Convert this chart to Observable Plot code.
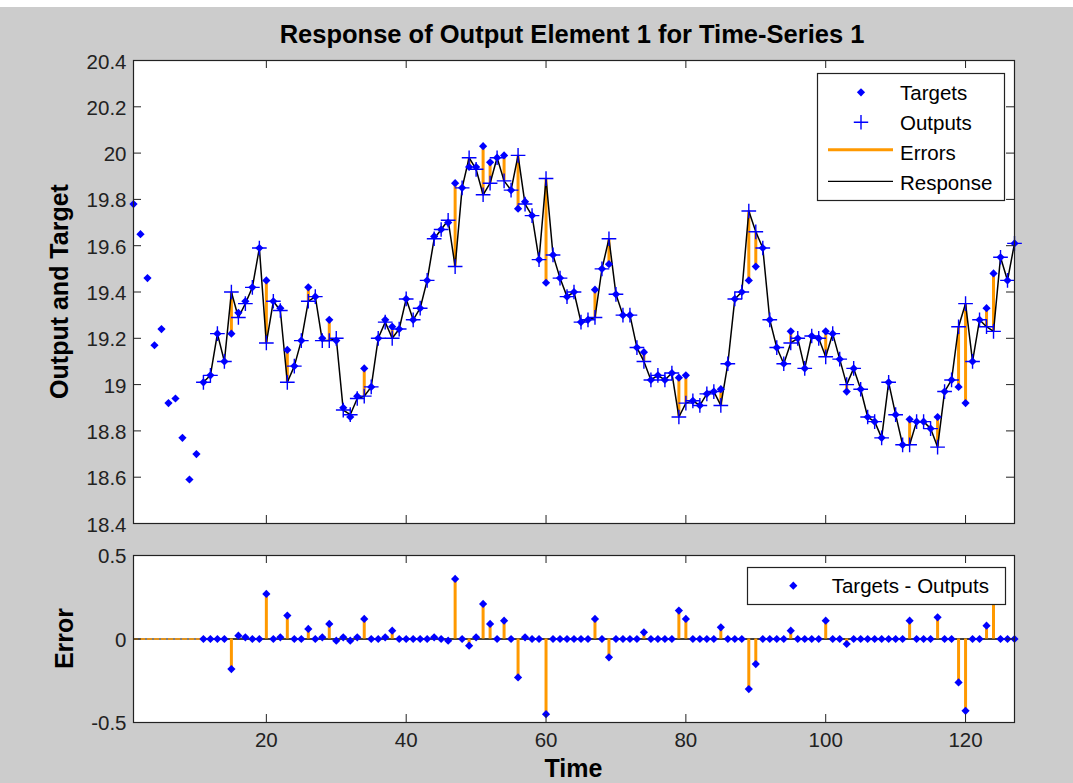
<!DOCTYPE html>
<html>
<head>
<meta charset="utf-8">
<script src="https://cdn.jsdelivr.net/npm/d3@7"></script>
<script src="https://cdn.jsdelivr.net/npm/@observablehq/plot@0.6"></script>
<style>
html,body{margin:0;padding:0;background:#cccccc;}
#fig{position:relative;width:1073px;height:783px;background:#cccccc;overflow:hidden;font-family:"Liberation Sans",Arial,sans-serif;}
#fig > svg{position:absolute;left:0;}
#overlay{position:absolute;left:0;top:0;pointer-events:none;}
</style>
</head>
<body>
<div id="fig"></div>
<script>
// ---- data ----
const title = "Response of Output Element 1 for Time-Series 1";
const yLabelTop = "Output and Target";
const yLabelErr = "Error";
const xLabel = "Time";
const legendTop = ["Targets", "Outputs", "Errors", "Response"];
const legendErr = ["Targets - Outputs"];

// targets for time steps 1..127
const targets = [
  19.78, 19.65, 19.46, 19.17, 19.24, 18.92, 18.94, 18.77, 18.59, 18.70,
  19.01, 19.04, 19.22, 19.10, 19.22, 19.31, 19.36, 19.42, 19.59, 19.45,
  19.36, 19.33, 19.15, 19.08, 19.19, 19.42, 19.38, 19.20, 19.28, 19.19,
  18.90, 18.86, 18.95, 19.07, 18.99, 19.20, 19.28, 19.25, 19.24, 19.37,
  19.28, 19.33, 19.45, 19.64, 19.67, 19.70, 19.87, 19.85, 19.94, 19.94,
  20.03, 19.96, 19.98, 19.99, 19.84, 19.76, 19.79, 19.73, 19.54, 19.44,
  19.56, 19.46, 19.38, 19.40, 19.27, 19.28, 19.41, 19.50, 19.52, 19.39,
  19.30, 19.30, 19.16, 19.14, 19.02, 19.04, 19.02, 19.05, 19.03, 19.04,
  18.93, 18.91, 18.96, 18.97, 18.98, 19.09, 19.37, 19.40, 19.45, 19.51,
  19.59, 19.28, 19.16, 19.09, 19.23, 19.20, 19.07, 19.21, 19.20, 19.23,
  19.22, 19.11, 18.97, 19.07, 18.98, 18.86, 18.84, 18.77, 19.01, 18.87,
  18.74, 18.85, 18.84, 18.84, 18.81, 18.86, 18.97, 19.02, 18.99, 18.92,
  19.10, 19.28, 19.33, 19.48, 19.55, 19.45, 19.61
];

// network outputs start at this time step
const firstOutputStep = 11;

// outputs for time steps 11..127
const outputs = [
  19.01, 19.04, 19.22, 19.10, 19.40, 19.29, 19.35, 19.42, 19.59, 19.18,
  19.36, 19.32, 19.01, 19.08, 19.19, 19.36, 19.38, 19.19, 19.19, 19.20,
  18.89, 18.87, 18.94, 18.95, 18.99, 19.20, 19.27, 19.20, 19.24, 19.37,
  19.28, 19.33, 19.45, 19.63, 19.67, 19.71, 19.51, 19.85, 19.98, 19.93,
  19.82, 19.87, 19.98, 19.88, 19.84, 19.99, 19.78, 19.73, 19.54, 19.89,
  19.56, 19.46, 19.38, 19.40, 19.27, 19.28, 19.29, 19.50, 19.63, 19.39,
  19.30, 19.30, 19.16, 19.10, 19.02, 19.04, 19.02, 19.05, 18.86, 18.92,
  18.93, 18.91, 18.96, 18.97, 18.91, 19.09, 19.37, 19.40, 19.75, 19.66,
  19.59, 19.28, 19.16, 19.09, 19.18, 19.20, 19.07, 19.21, 19.20, 19.12,
  19.22, 19.11, 19.00, 19.07, 18.98, 18.86, 18.84, 18.77, 19.01, 18.87,
  18.74, 18.74, 18.84, 18.84, 18.81, 18.73, 18.97, 19.02, 19.25, 19.35,
  19.10, 19.28, 19.25, 19.23, 19.55, 19.45, 19.61
];

// errors (targets - outputs) for time steps 11..127
const errors = [
  0, 0, 0, 0, -0.18, 0.02, 0.01, 0, 0, 0.27,
  0, 0.01, 0.14, 0, 0, 0.06, 0, 0.01, 0.09, -0.01,
  0.01, -0.01, 0.01, 0.12, 0, 0, 0.01, 0.05, 0, 0,
  0, 0, 0, 0.01, 0, -0.01, 0.36, 0, -0.04, 0.01,
  0.21, 0.09, 0, 0.11, 0, -0.23, 0.01, 0, 0, -0.45,
  0, 0, 0, 0, 0, 0, 0.12, 0, -0.11, 0,
  0, 0, 0, 0.04, 0, 0, 0, 0, 0.17, 0.12,
  0, 0, 0, 0, 0.07, 0, 0, 0, -0.30, -0.15,
  0, 0, 0, 0, 0.05, 0, 0, 0, 0, 0.11,
  0, 0, -0.03, 0, 0, 0, 0, 0, 0, 0,
  0, 0.11, 0, 0, 0, 0.13, 0, 0, -0.26, -0.43,
  0, 0, 0.08, 0.25, 0, 0, 0
];

const xTicks = [20, 40, 60, 80, 100, 120];
const yTicksTop = [18.4, 18.6, 18.8, 19, 19.2, 19.4, 19.6, 19.8, 20, 20.2, 20.4];
const yTicksErr = [-0.5, 0, 0.5];

// ---- styling ----
const BLUE = "#0000ff";
const ORANGE = "#ff9900";
const AXIS = "#222222";
const FONT = '"Liberation Sans", Arial, sans-serif';
const W = 1073;
const ML = 133, MR = 59;
const innerW = W - ML - MR;
const tickLen = 8;
const DIAMOND_R = 3.7;
const PLUS_R = 4.8;
const fmt = d => String(+d.toFixed(2)).replace("\u2212", "-");

// ---- tables ----
const targetRows = targets.map((v, i) => ({t: i + 1, target: v}));
const outRows = outputs.map((v, i) => ({
  t: i + firstOutputStep,
  output: v,
  target: targets[i + firstOutputStep - 1],
  error: errors[i]
}));
const lastStep = targets.length;

const fig = document.getElementById("fig");

// ---- top panel ----
const topH = 530, topMT = 60, topMB = 7;
const topInnerH = topH - topMT - topMB;
const topPlot = Plot.plot({
  width: W, height: topH,
  marginLeft: ML, marginRight: MR, marginTop: topMT, marginBottom: topMB,
  style: {background: "transparent", fontFamily: FONT, overflow: "visible"},
  x: {domain: [1, lastStep], axis: null},
  y: {domain: [18.4, 20.4], axis: null},
  marks: [
    Plot.frame({fill: "white", stroke: "none"}),
    Plot.ruleX(outRows, {x: "t", y1: "output", y2: "target", stroke: ORANGE, strokeWidth: 3}),
    Plot.line(outRows, {x: "t", y: "output", stroke: "#000", strokeWidth: 1.5}),
    Plot.dot(targetRows, {x: "t", y: "target", symbol: "diamond2", r: DIAMOND_R, fill: BLUE, stroke: "none"}),
    Plot.dot(outRows, {x: "t", y: "output", symbol: "plus", r: PLUS_R, stroke: BLUE, strokeWidth: 1.4}),
    Plot.tickY(yTicksTop, {y: d => d, insetRight: innerW - tickLen, stroke: AXIS}),
    Plot.tickY(yTicksTop, {y: d => d, insetLeft: innerW - tickLen, stroke: AXIS}),
    Plot.tickX(xTicks, {x: d => d, insetBottom: topInnerH - tickLen, stroke: AXIS}),
    Plot.tickX(xTicks, {x: d => d, insetTop: topInnerH - tickLen, stroke: AXIS}),
    Plot.axisY(yTicksTop, {tickSize: 0, tickPadding: 7, fontSize: 20.5, tickFormat: fmt, label: null, fill: AXIS, dy: 1.5}),
    Plot.frame({stroke: AXIS, strokeWidth: 1.2})
  ]
});
topPlot.style.top = "0px";
fig.appendChild(topPlot);

// ---- error panel ----
const errTop = 530;
const errH = 253, errMT = 25, errMB = 61;
const errInnerH = errH - errMT - errMB;
const errPlot = Plot.plot({
  width: W, height: errH,
  marginLeft: ML, marginRight: MR, marginTop: errMT, marginBottom: errMB,
  style: {background: "transparent", fontFamily: FONT, overflow: "visible"},
  x: {domain: [1, lastStep], axis: null},
  y: {domain: [-0.5, 0.5], axis: null},
  marks: [
    Plot.frame({fill: "white", stroke: "none"}),
    Plot.ruleY([0], {x1: 1, x2: firstOutputStep, stroke: "#000", strokeWidth: 1}),
    Plot.ruleY([0], {x1: 1, x2: firstOutputStep, stroke: ORANGE, strokeWidth: 1.6, strokeDasharray: "5,2"}),
    Plot.ruleY([0], {x1: firstOutputStep, x2: lastStep, stroke: "#000", strokeWidth: 1.4}),
    Plot.ruleX(outRows, {x: "t", y1: 0, y2: "error", stroke: ORANGE, strokeWidth: 3}),
    Plot.dot(outRows, {x: "t", y: "error", symbol: "diamond2", r: DIAMOND_R, fill: BLUE, stroke: "none"}),
    Plot.tickY(yTicksErr, {y: d => d, insetRight: innerW - tickLen, stroke: AXIS}),
    Plot.tickY(yTicksErr, {y: d => d, insetLeft: innerW - tickLen, stroke: AXIS}),
    Plot.tickX(xTicks, {x: d => d, insetBottom: errInnerH - tickLen, stroke: AXIS}),
    Plot.tickX(xTicks, {x: d => d, insetTop: errInnerH - tickLen, stroke: AXIS}),
    Plot.axisY(yTicksErr, {tickSize: 0, tickPadding: 7, fontSize: 20.5, tickFormat: fmt, label: null, fill: AXIS, dy: 1}),
    Plot.axisX(xTicks, {tickSize: 0, tickPadding: 10, fontSize: 20.5, tickFormat: fmt, label: null, fill: AXIS}),
    Plot.frame({stroke: AXIS, strokeWidth: 1.2})
  ]
});
errPlot.style.top = errTop + "px";
fig.appendChild(errPlot);

// ---- overlay: title, axis labels, legends ----
const ns = "http://www.w3.org/2000/svg";
const ov = document.createElementNS(ns, "svg");
ov.setAttribute("id", "overlay");
ov.setAttribute("width", W);
ov.setAttribute("height", 783);
fig.appendChild(ov);
function el(tag, attrs, text) {
  const e = document.createElementNS(ns, tag);
  for (const k in attrs) e.setAttribute(k, attrs[k]);
  if (text != null) e.textContent = text;
  ov.appendChild(e);
  return e;
}
function diamond(cx, cy, r) {
  el("polygon", {points: `${cx},${cy - r} ${cx + r},${cy} ${cx},${cy + r} ${cx - r},${cy}`, fill: BLUE});
}
function plus(cx, cy, r) {
  el("path", {d: `M${cx - r},${cy}H${cx + r}M${cx},${cy - r}V${cy + r}`, stroke: BLUE, "stroke-width": 1.4, fill: "none"});
}
el("rect", {x: 0, y: 0, width: W, height: 7, fill: "white"});
const bold = {"font-family": FONT, "font-weight": "bold", "font-size": 25.5, fill: "#000", "text-anchor": "middle"};
el("text", {...bold, x: 572, y: 43}, title);
el("text", {...bold, "font-size": 25, transform: "translate(68,291.5) rotate(-90)"}, yLabelTop);
el("text", {...bold, "font-size": 25, transform: "translate(73,638.5) rotate(-90)"}, yLabelErr);
el("text", {...bold, "font-size": 25, x: 573.5, y: 777}, xLabel);

const lt = {"font-family": FONT, "font-size": 20.5, fill: "#000"};
// top legend
el("rect", {x: 817.5, y: 73.5, width: 187, height: 127, fill: "white", stroke: AXIS, "stroke-width": 1.2});
diamond(861, 92.3, 4.1);
el("text", {...lt, x: 900, y: 99.7}, legendTop[0]);
plus(861, 122.3, 7.2);
el("text", {...lt, x: 900, y: 129.7}, legendTop[1]);
el("line", {x1: 828, x2: 893, y1: 149.7, y2: 149.7, stroke: ORANGE, "stroke-width": 3});
el("text", {...lt, x: 900, y: 159.7}, legendTop[2]);
el("line", {x1: 828, x2: 893, y1: 181.3, y2: 181.3, stroke: "#000", "stroke-width": 1.2});
el("text", {...lt, x: 900, y: 189.7}, legendTop[3]);
// error legend
el("rect", {x: 747.5, y: 567.5, width: 258, height: 37, fill: "white", stroke: AXIS, "stroke-width": 1.2});
diamond(793.3, 585.7, 4.1);
el("text", {...lt, x: 831.7, y: 593.3}, legendErr[0]);
</script>
</body>
</html>
